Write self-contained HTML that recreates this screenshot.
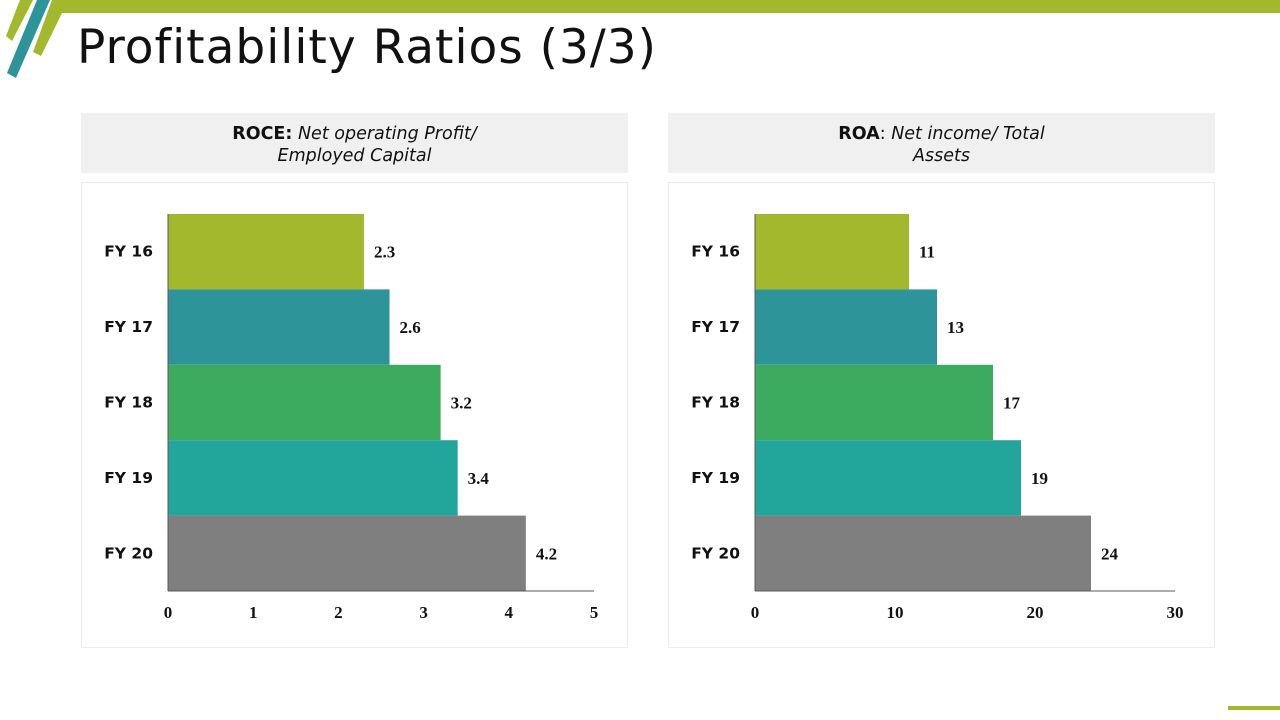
<!DOCTYPE html>
<html><head><meta charset="utf-8">
<style>
html,body{margin:0;padding:0;background:#fff;}
body{width:1280px;height:720px;position:relative;overflow:hidden;font-family:"DejaVu Sans","Liberation Sans",sans-serif;}
.title{position:absolute;left:77px;top:20px;font-size:47px;color:#111;font-family:"DejaVu Sans","Liberation Sans",sans-serif;letter-spacing:1px;}
.hdr{position:absolute;top:113px;width:547px;height:60px;background:#f0f0f0;text-align:center;font-size:17.5px;line-height:22px;color:#111;box-sizing:border-box;padding-top:10px;}
.hdr i{font-style:italic;}
.panel{position:absolute;top:182px;width:547px;height:466px;border:1px solid #ececec;box-sizing:border-box;}
svg text{font-weight:bold;}
</style></head><body>
<svg style="position:absolute;left:0;top:0" width="1280" height="720">
  <polygon points="52,0 1280,0 1280,13 62,13 41,56 33,52" fill="#a3b82d"/>
  <polygon points="20,0 33,0 12,41 6,36" fill="#a3b82d"/>
  <polygon points="37,0 50,0 16,78 7,73" fill="#2d9499"/>
  <rect x="1228" y="706" width="52" height="4" fill="#a3b82d"/>
</svg>
<div class="title">Profitability Ratios (3/3)</div>

<div class="hdr" style="left:81px"><b>ROCE:</b> <i>Net operating Profit/<br>Employed Capital</i></div>
<div class="hdr" style="left:668px"><b>ROA</b>: <i>Net income/ Total<br>Assets</i></div>
<div class="panel" style="left:81px"></div>
<div class="panel" style="left:668px"></div>

<svg id="chart" style="position:absolute;left:0;top:0" width="1280" height="720"></svg>
<script>
const categories = ["FY 16","FY 17","FY 18","FY 19","FY 20"];
const roceValues = [2.3,2.6,3.2,3.4,4.2];
const roaValues = [11,13,17,19,24];
const roceLabels = ["2.3","2.6","3.2","3.4","4.2"];
const roaLabels = ["11","13","17","19","24"];
const roceTicks = [0,1,2,3,4,5];
const roaTicks = [0,10,20,30];
const colors = ["#a3b82d","#2d9499","#3cab60","#22a69b","#7f7f7f"];
const svg = document.getElementById('chart');
const NS = "http://www.w3.org/2000/svg";
function mk(tag, attrs){const e=document.createElementNS(NS,tag);for(const k in attrs)e.setAttribute(k,attrs[k]);svg.appendChild(e);return e;}
function draw(prefix, x0, x1, max, values, labels, ticks){
  const top=214, bottom=591, band=(bottom-top)/categories.length;
  const xs = v => x0 + (x1-x0)*v/max;
  categories.forEach((c,i)=>{
    const y=top+i*band;
    const r=mk('rect',{x:x0,y:y,width:xs(values[i])-x0,height:band,fill:colors[i]});
    
    
    const t=mk('text',{x:x0-15,y:y+band/2+5,'text-anchor':'end','font-size':'15.5','font-family':'DejaVu Sans, sans-serif',fill:'#111'});
    t.textContent=c;
    
    
    const v=mk('text',{x:xs(values[i])+10,y:y+band/2+6,'font-size':'17','font-family':'Liberation Serif, serif',fill:'#111'});
    v.textContent=labels[i];
    
    
  });
  const ax=mk('line',{x1:x0,y1:bottom,x2:x1,y2:bottom,stroke:'#595959','stroke-width':1});
  
  
  const ay=mk('line',{x1:x0,y1:top,x2:x0,y2:bottom,stroke:'#595959','stroke-width':1});
  
  
  ticks.forEach(tv=>{
    const t=mk('text',{x:xs(tv),y:618,'text-anchor':'middle','font-size':'17','font-family':'Liberation Serif, serif',fill:'#111'});
    t.textContent=String(tv);
    
    
  });
}
draw('roce',168,594,5,roceValues,roceLabels,roceTicks);
draw('roa',755,1175,30,roaValues,roaLabels,roaTicks);
</script>
</body></html>
